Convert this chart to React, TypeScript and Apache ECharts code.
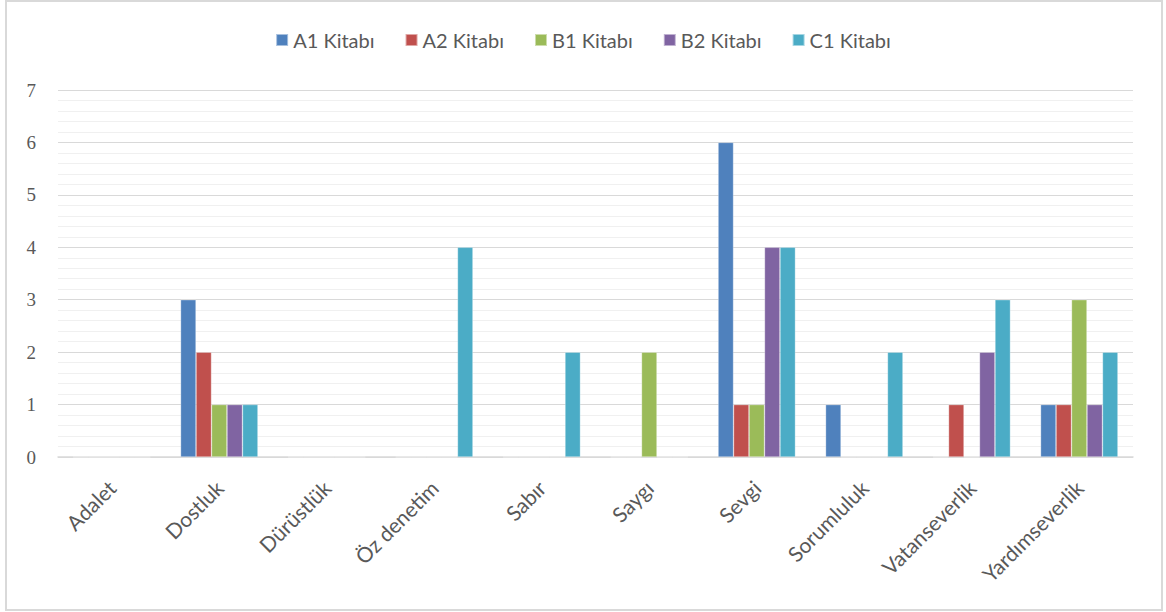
import React, { useEffect, useRef } from "react";
import * as echarts from "echarts";

const categories = ["Adalet", "Dostluk", "Dürüstlük", "Öz denetim", "Sabır", "Saygı", "Sevgi", "Sorumluluk", "Vatanseverlik", "Yardımseverlik"];
const seriesNames = ["A1 Kitabı", "A2 Kitabı", "B1 Kitabı", "B2 Kitabı", "C1 Kitabı"];
const a1 = [0, 3, 0, 0, 0, 0, 6, 1, 0, 1];
const a2 = [0, 2, 0, 0, 0, 0, 1, 0, 1, 1];
const b1 = [0, 1, 0, 0, 0, 2, 1, 0, 0, 3];
const b2 = [0, 1, 0, 0, 0, 0, 4, 0, 2, 1];
const c1 = [0, 1, 0, 4, 2, 0, 4, 2, 3, 2];
const colors = ["#4F81BD", "#C0504D", "#9BBB59", "#8064A2", "#4BACC6"];

export default function App() {
  const ref = useRef<HTMLDivElement>(null);
  useEffect(() => {
    document.body.style.margin = "0";
    const chart = echarts.init(ref.current!, null, { renderer: "svg" });
    const values = [a1, a2, b1, b2, c1];
    chart.setOption({
      animation: false,
      backgroundColor: "#ffffff",
      color: colors,
      textStyle: { fontFamily: "Lato, 'Open Sans', sans-serif" },
      graphic: [
        {
          type: "rect",
          shape: { x: 6, y: 1, width: 1156, height: 609 },
          style: { fill: "none", stroke: "#d9d9d9", lineWidth: 2 },
          silent: true,
        },
      ],
      legend: {
        top: 25,
        left: "center",
        itemWidth: 12,
        itemHeight: 12,
        itemGap: 30,
        icon: "rect",
        textStyle: { fontSize: 20, color: "#595959", fontFamily: "Lato, sans-serif" },
        data: seriesNames,
      },
      grid: { left: 58, right: 33, top: 90, bottom: 155, containLabel: false },
      xAxis: {
        type: "category",
        data: categories,
        axisLine: { show: true, lineStyle: { color: "#d9d9d9", width: 1.5 } },
        axisTick: { show: false },
        axisLabel: { rotate: 45, fontSize: 21, color: "#595959", margin: 27, interval: 0, fontFamily: "Lato, sans-serif" },
      },
      yAxis: {
        type: "value",
        min: 0,
        max: 7,
        interval: 1,
        axisLine: { show: false },
        axisTick: { show: false },
        axisLabel: { fontSize: 19, color: "#595959", margin: 22, fontFamily: "'Liberation Serif', serif" },
        splitLine: { lineStyle: { color: "#d9d9d9", width: 1 } },
        minorTick: { show: false, splitNumber: 5 },
        minorSplitLine: { show: true, lineStyle: { color: "#f0f0f0", width: 1 } },
      },
      series: seriesNames.map((name, i) => ({
        name,
        type: "bar",
        data: values[i],
        barGap: "0%",
        barCategoryGap: "28%",
        itemStyle: { color: colors[i], borderColor: "rgba(255,255,255,0.5)", borderWidth: 0.6 },
      })),
    });
    return () => chart.dispose();
  }, []);
  return <div ref={ref} style={{ width: 1166, height: 612 }} />;
}
